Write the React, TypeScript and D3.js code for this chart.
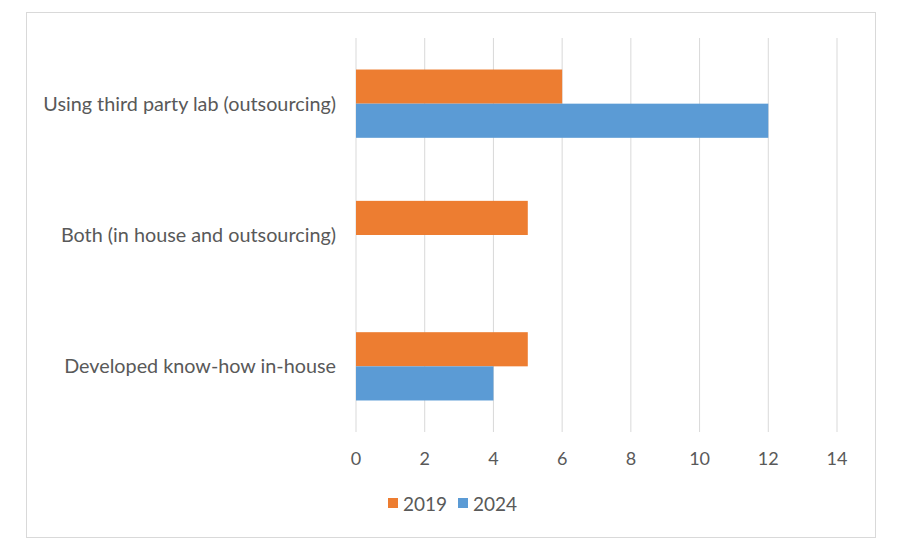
import { useEffect } from "react";
import * as d3 from "d3";

const categories = [
  "Using third party lab (outsourcing)",
  "Both (in house and outsourcing)",
  "Developed know-how in-house",
];
const seriesNames = ["2019", "2024"];
const values2019 = [6, 5, 5];
const values2024 = [12, 0, 4];
const xTicks = [0, 2, 4, 6, 8, 10, 12, 14];

const COLORS = ["#ED7D31", "#5B9BD5"];
const FONT = "Lato, 'Open Sans', sans-serif";
const TEXT = "#595959";
const W = 900;
const H = 550;

export default function App() {
  useEffect(() => {
    document.body.style.margin = "0";
  }, []);

  const x = d3.scaleLinear().domain([0, 14]).range([356, 837]);
  const y = d3
    .scaleBand<string>()
    .domain(categories)
    .range([38, 432])
    .paddingInner(0.48)
    .paddingOuter(0.24);
  const inner = d3
    .scaleBand<string>()
    .domain(seriesNames)
    .range([0, y.bandwidth()]);

  const series = [values2019, values2024];

  return (
    <svg width={W} height={H} style={{ display: "block", fontFamily: FONT }}>
      <rect x={0} y={0} width={W} height={H} fill="#fff" />
      <rect
        x={26.5}
        y={12.5}
        width={849}
        height={525}
        fill="none"
        stroke="#D9D9D9"
        strokeWidth={1}
      />

      {/* gridlines */}
      {xTicks.map((t) => (
        <line
          key={t}
          x1={x(t)}
          x2={x(t)}
          y1={38}
          y2={432}
          stroke="#D9D9D9"
          strokeWidth={1}
        />
      ))}

      {/* bars */}
      {categories.map((c, i) => (
        <g key={c} transform={`translate(0,${y(c)})`}>
          {seriesNames.map((s, j) =>
            series[j][i] > 0 ? (
              <rect
                key={s}
                x={x(0)}
                y={inner(s)}
                width={x(series[j][i]) - x(0)}
                height={inner.bandwidth()}
                fill={COLORS[j]}
              />
            ) : null,
          )}
        </g>
      ))}

      {/* category labels */}
      {categories.map((c) => (
        <text
          key={c}
          x={336}
          y={(y(c) ?? 0) + y.bandwidth() / 2 - 1}
          textAnchor="end"
          dominantBaseline="central"
          fontSize={19.8}
          fill={TEXT}
        >
          {c}
        </text>
      ))}

      {/* x tick labels */}
      {xTicks.map((t) => (
        <text
          key={t}
          x={x(t)}
          y={458}
          textAnchor="middle"
          dominantBaseline="central"
          fontSize={18}
          fill={TEXT}
        >
          {t}
        </text>
      ))}

      {/* legend */}
      {seriesNames.map((s, j) => (
        <g key={s} transform={`translate(${388 + j * 70},503)`}>
          <rect x={0} y={-5} width={10} height={10} fill={COLORS[j]} />
          <text
            x={15}
            y={0}
            dominantBaseline="central"
            fontSize={19}
            fill={TEXT}
          >
            {s}
          </text>
        </g>
      ))}
    </svg>
  );
}
